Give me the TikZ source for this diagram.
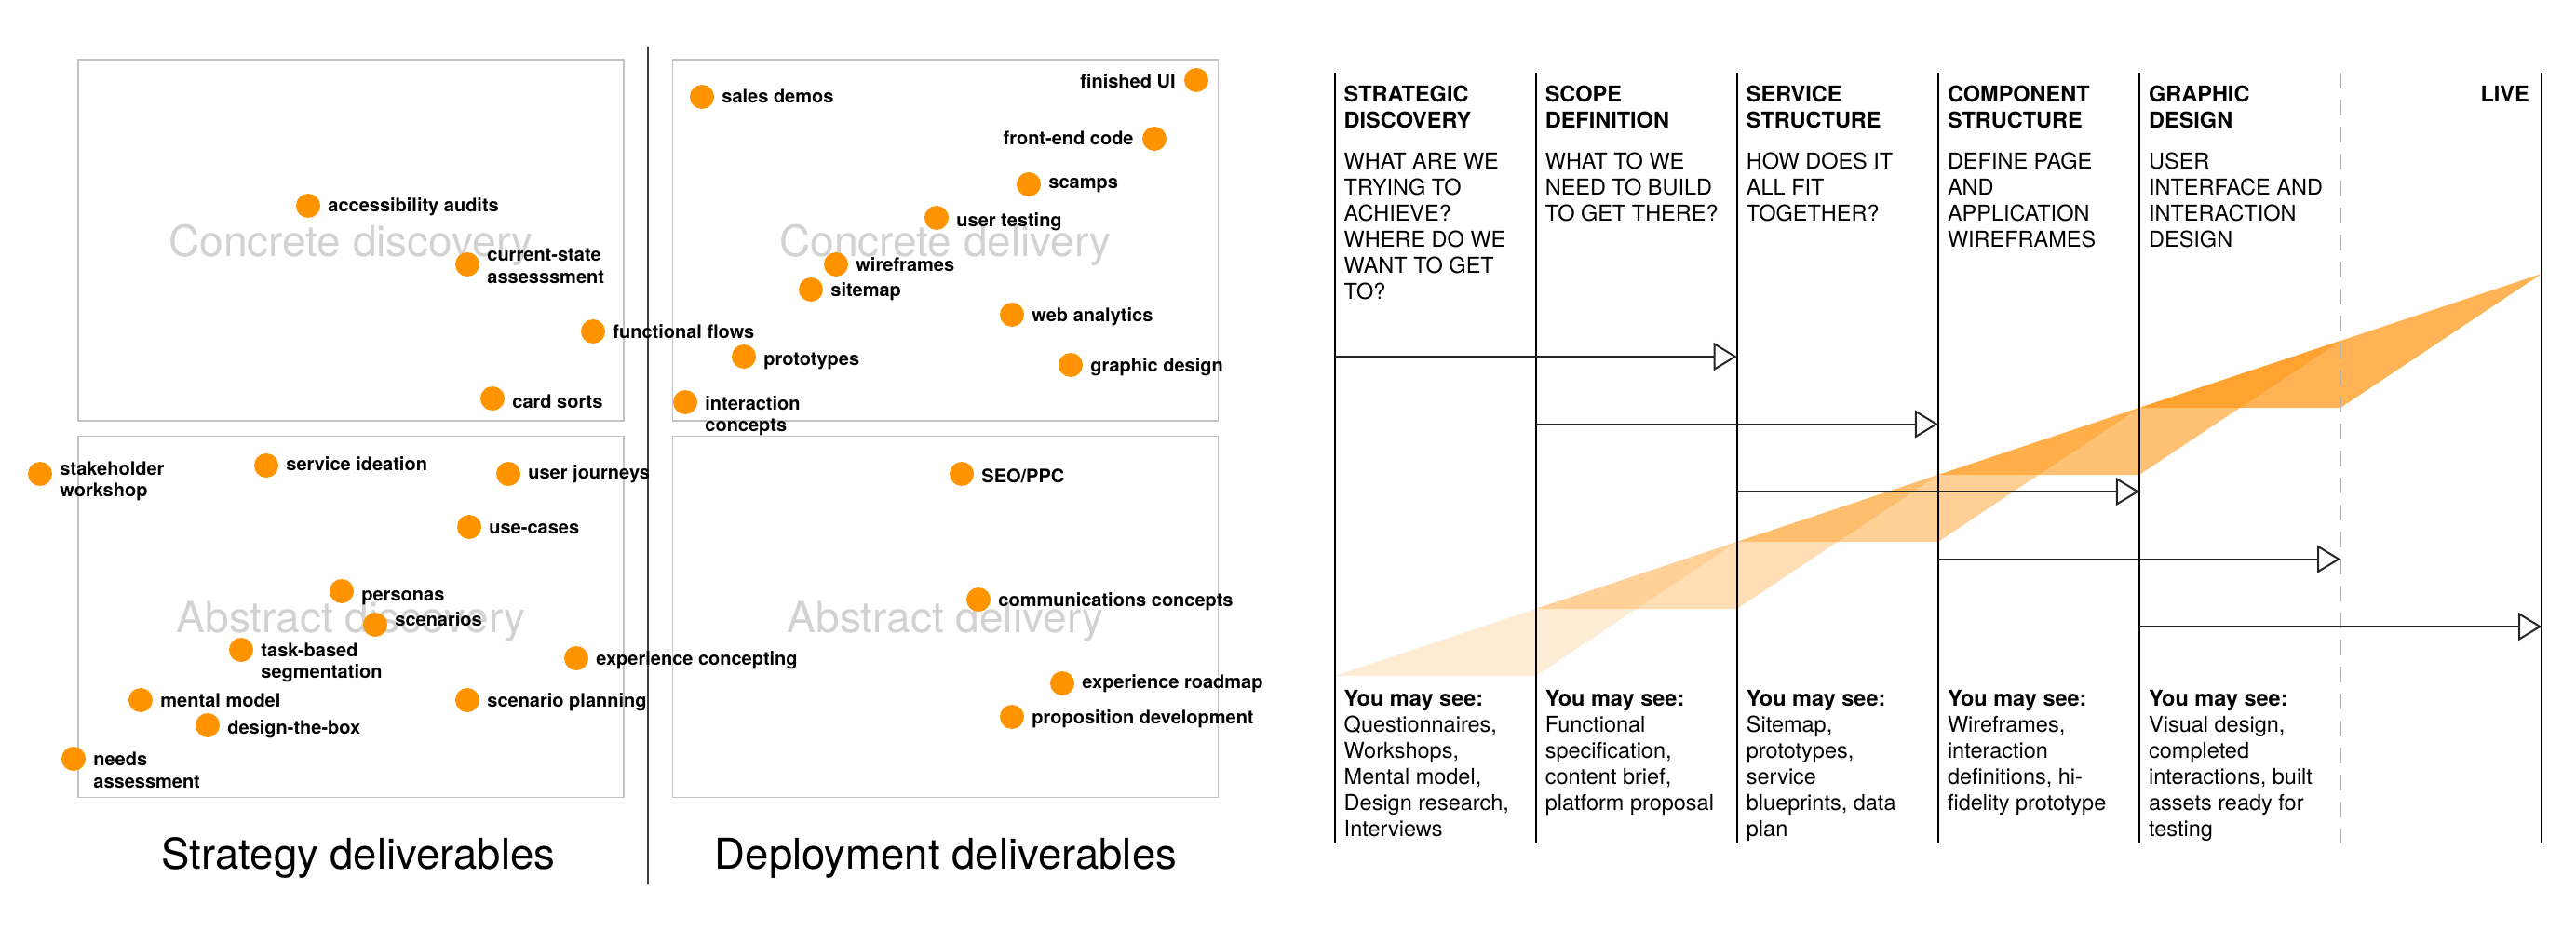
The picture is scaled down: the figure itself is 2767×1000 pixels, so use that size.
\documentclass[tikz,border=0pt]{standalone}
\usepackage{fontspec}
\setmainfont{TeX Gyre Heros}
\usetikzlibrary{positioning, arrows.meta}

\definecolor{dotorange}{RGB}{255,148,0}
\definecolor{bandorange}{RGB}{255,152,24}
\definecolor{boxgray}{RGB}{195,195,195}
\definecolor{quadgray}{RGB}{210,210,210}
\definecolor{livegray}{RGB}{175,175,175}

\newcommand{\colnote}[1]{\parbox[t]{215pt}{\raggedright\fontsize{23.5}{28}\selectfont #1}}

\begin{document}
\begin{tikzpicture}[x=1pt, y=-1pt]
    \tikzstyle{dot} = [circle, fill=dotorange, minimum size=26pt, inner sep=0pt]
    \tikzstyle{lbl} = [font=\fontsize{20}{23.5}\selectfont\bfseries, inner sep=0pt, text height=14pt, text depth=4pt, yshift=-2pt]
    \tikzstyle{lbltwo} = [font=\fontsize{20}{23.5}\selectfont\bfseries, inner sep=0pt, align=left, yshift=-2pt]
    \tikzstyle{quad} = [draw=boxgray, line width=1.3pt, text=quadgray, font=\fontsize{46}{50}\selectfont, minimum width=586pt, minimum height=388pt, text depth=0pt, inner sep=0pt]
    \tikzstyle{title} = [font=\fontsize{45.5}{50}\selectfont, anchor=base, inner sep=0pt]
    \tikzstyle{colline} = [line width=2pt]
    \tikzstyle{liveline} = [line width=2pt, livegray, dash pattern=on 17pt off 12pt]
    \tikzstyle{flow} = [line width=2pt, draw=black!85, -{Triangle[length=25pt, width=30pt, fill=white]}]
    \tikzstyle{coltext} = [anchor=base west, inner sep=0pt]

    \useasboundingbox (0, 0) rectangle (2767, 1000);

    \node (cdis) at (377, 258) [quad] {Concrete discovery};
    \node (adis) at (377, 662.5) [quad] {Abstract discovery};
    \node (cdel) at (1015.5, 258) [quad] {Concrete delivery};
    \node (adel) at (1015.5, 662.5) [quad] {Abstract delivery};

    \coordinate (sept) at (696, 50);
    \coordinate (sepb) at (696, 950);
    \draw[line width=1.2pt, black!75] (sept) -- (sepb);

    \node (strat) at (385, 933) [title] {Strategy deliverables};
    \node (deploy) at (1016, 933) [title] {Deployment deliverables};

    \node (acc) at (331, 221) [dot] {};
    \node (accl) [lbl, right=8pt of acc] {accessibility audits};
    \node (cur) at (502, 284) [dot] {};
    \node (curl) [lbltwo, right=8pt of cur] {current-state\\assesssment};
    \node (fun) at (637, 356) [dot] {};
    \node (funl) [lbl, right=8pt of fun] {functional flows};
    \node (card) at (529, 428) [dot] {};
    \node (cardl) [lbl, right=8pt of card, yshift=-3pt] {card sorts};

    \node (stake) at (43, 509) [dot] {};
    \node (stakel) [lbltwo, right=8pt of stake, yshift=-6pt] {stakeholder\\workshop};
    \node (serv) at (286, 500) [dot] {};
    \node (servl) [lbl, right=8pt of serv, yshift=2pt] {service ideation};
    \node (jour) at (546, 509) [dot] {};
    \node (jourl) [lbl, right=8pt of jour, yshift=2pt] {user journeys};
    \node (use) at (504, 566) [dot] {};
    \node (usel) [lbl, right=8pt of use] {use-cases};
    \node (pers) at (367, 635) [dot] {};
    \node (persl) [lbl, right=8pt of pers, yshift=-3pt] {personas};
    \node (scen) at (403, 671) [dot] {};
    \node (scenl) [lbl, right=8pt of scen, yshift=5.5pt] {scenarios};
    \node (task) at (259, 698) [dot] {};
    \node (taskl) [lbltwo, right=8pt of task, yshift=-12pt] {task-based\\segmentation};
    \node (ment) at (151, 752) [dot] {};
    \node (mentl) [lbl, right=8pt of ment] {mental model};
    \node (dtb) at (223, 779) [dot] {};
    \node (dtbl) [lbl, right=8pt of dtb, yshift=-2pt] {design-the-box};
    \node (need) at (79, 815) [dot] {};
    \node (needl) [lbltwo, right=8pt of need, yshift=-10.5pt] {needs\\assessment};
    \node (plan) at (502, 752) [dot] {};
    \node (planl) [lbl, right=8pt of plan] {scenario planning};
    \node (exp) at (619, 707) [dot] {};
    \node (expl) [lbl, right=8pt of exp] {experience concepting};

    \node (sales) at (754, 104) [dot] {};
    \node (salesl) [lbl, right=8pt of sales] {sales demos};
    \node (fin) at (1285, 86) [dot] {};
    \node (finl) [lbl, left=9pt of fin, yshift=-2pt] {finished UI};
    \node (front) at (1240, 149) [dot] {};
    \node (frontl) [lbl, left=9pt of front] {front-end code};
    \node (scamp) at (1105, 198) [dot] {};
    \node (scampl) [lbl, right=8pt of scamp, yshift=2pt] {scamps};
    \node (test) at (1006, 234) [dot] {};
    \node (testl) [lbl, right=8pt of test, yshift=-3pt] {user testing};
    \node (wire) at (898, 284) [dot] {};
    \node (wirel) [lbl, right=8pt of wire] {wireframes};
    \node (site) at (871, 311) [dot] {};
    \node (sitel) [lbl, right=8pt of site] {sitemap};
    \node (web) at (1087, 338) [dot] {};
    \node (webl) [lbl, right=8pt of web] {web analytics};
    \node (proto) at (799, 383) [dot] {};
    \node (protol) [lbl, right=8pt of proto, yshift=-2pt] {prototypes};
    \node (graph) at (1150, 392) [dot] {};
    \node (graphl) [lbl, right=8pt of graph] {graphic design};
    \node (inter) at (736, 432) [dot] {};
    \node (interl) [lbltwo, right=8pt of inter, yshift=-12.5pt] {interaction\\concepts};

    \node (seo) at (1033, 509) [dot] {};
    \node (seol) [lbl, right=8pt of seo, yshift=-2pt] {SEO/PPC};
    \node (comm) at (1051, 644) [dot] {};
    \node (comml) [lbl, right=8pt of comm] {communications concepts};
    \node (road) at (1141, 734) [dot] {};
    \node (roadl) [lbl, right=8pt of road, yshift=1.5pt] {experience roadmap};
    \node (prop) at (1087, 770) [dot] {};
    \node (propl) [lbl, right=8pt of prop] {proposition development};

    \foreach \i/\op in {0/0.18, 1/0.32, 2/0.46, 3/0.6, 4/0.74}
      \fill[bandorange, opacity=\op] (1433.5+216.1*\i, 726-72*\i) -- ++(216.1, 0) -- ++(216.1, -144) -- cycle;

    \foreach \i in {0,...,6} {
      \coordinate (top\i) at (1433.5+216.1*\i, 78);
      \coordinate (bot\i) at (1433.5+216.1*\i, 906);
    }
    \foreach \i in {0,1,2,3,4,6}
      \draw[colline] (top\i) -- (bot\i);
    \draw[liveline] (top5) -- (bot5);

    \foreach \i in {0,...,4} {
      \coordinate (from\i) at (1433.5+216.1*\i, 383+72.5*\i);
      \coordinate (to\i) at (1865.7+216.1*\i, 383+72.5*\i);
      \draw[flow] (from\i) -- (to\i);
    }

    \foreach \i/\head/\ask/\see in {
      0/{STRATEGIC\\DISCOVERY}/{WHAT ARE WE\\TRYING TO\\ACHIEVE?\\WHERE DO WE\\WANT TO GET\\TO?}/{Questionnaires,\\Workshops,\\Mental model,\\Design research,\\Interviews},
      1/{SCOPE\\DEFINITION}/{WHAT TO WE\\NEED TO BUILD\\TO GET THERE?}/{Functional\\specification,\\content brief,\\platform proposal},
      2/{SERVICE\\STRUCTURE}/{HOW DOES IT\\ALL FIT\\TOGETHER?}/{Sitemap,\\prototypes,\\service\\blueprints, data\\plan},
      3/{COMPONENT\\STRUCTURE}/{DEFINE PAGE\\AND\\APPLICATION\\WIREFRAMES}/{Wireframes,\\interaction\\definitions, hi-\\fidelity prototype},
      4/{GRAPHIC\\DESIGN}/{USER\\INTERFACE AND\\INTERACTION\\DESIGN}/{Visual design,\\completed\\interactions, built\\assets ready for\\testing}}
    {
      \node (head\i) at (1443.5+216.1*\i, 110) [coltext] {\colnote{\bfseries\head}};
      \node (ask\i) at (1443.5+216.1*\i, 182) [coltext] {\colnote{\ask}};
      \node (see\i) at (1443.5+216.1*\i, 758) [coltext] {\colnote{\textbf{You may see:}\\\see}};
    }
    \node (live) at (2717, 110) [anchor=base east, inner sep=0pt, font=\fontsize{23.5}{28}\selectfont\bfseries] {LIVE};
\end{tikzpicture}
\end{document}
